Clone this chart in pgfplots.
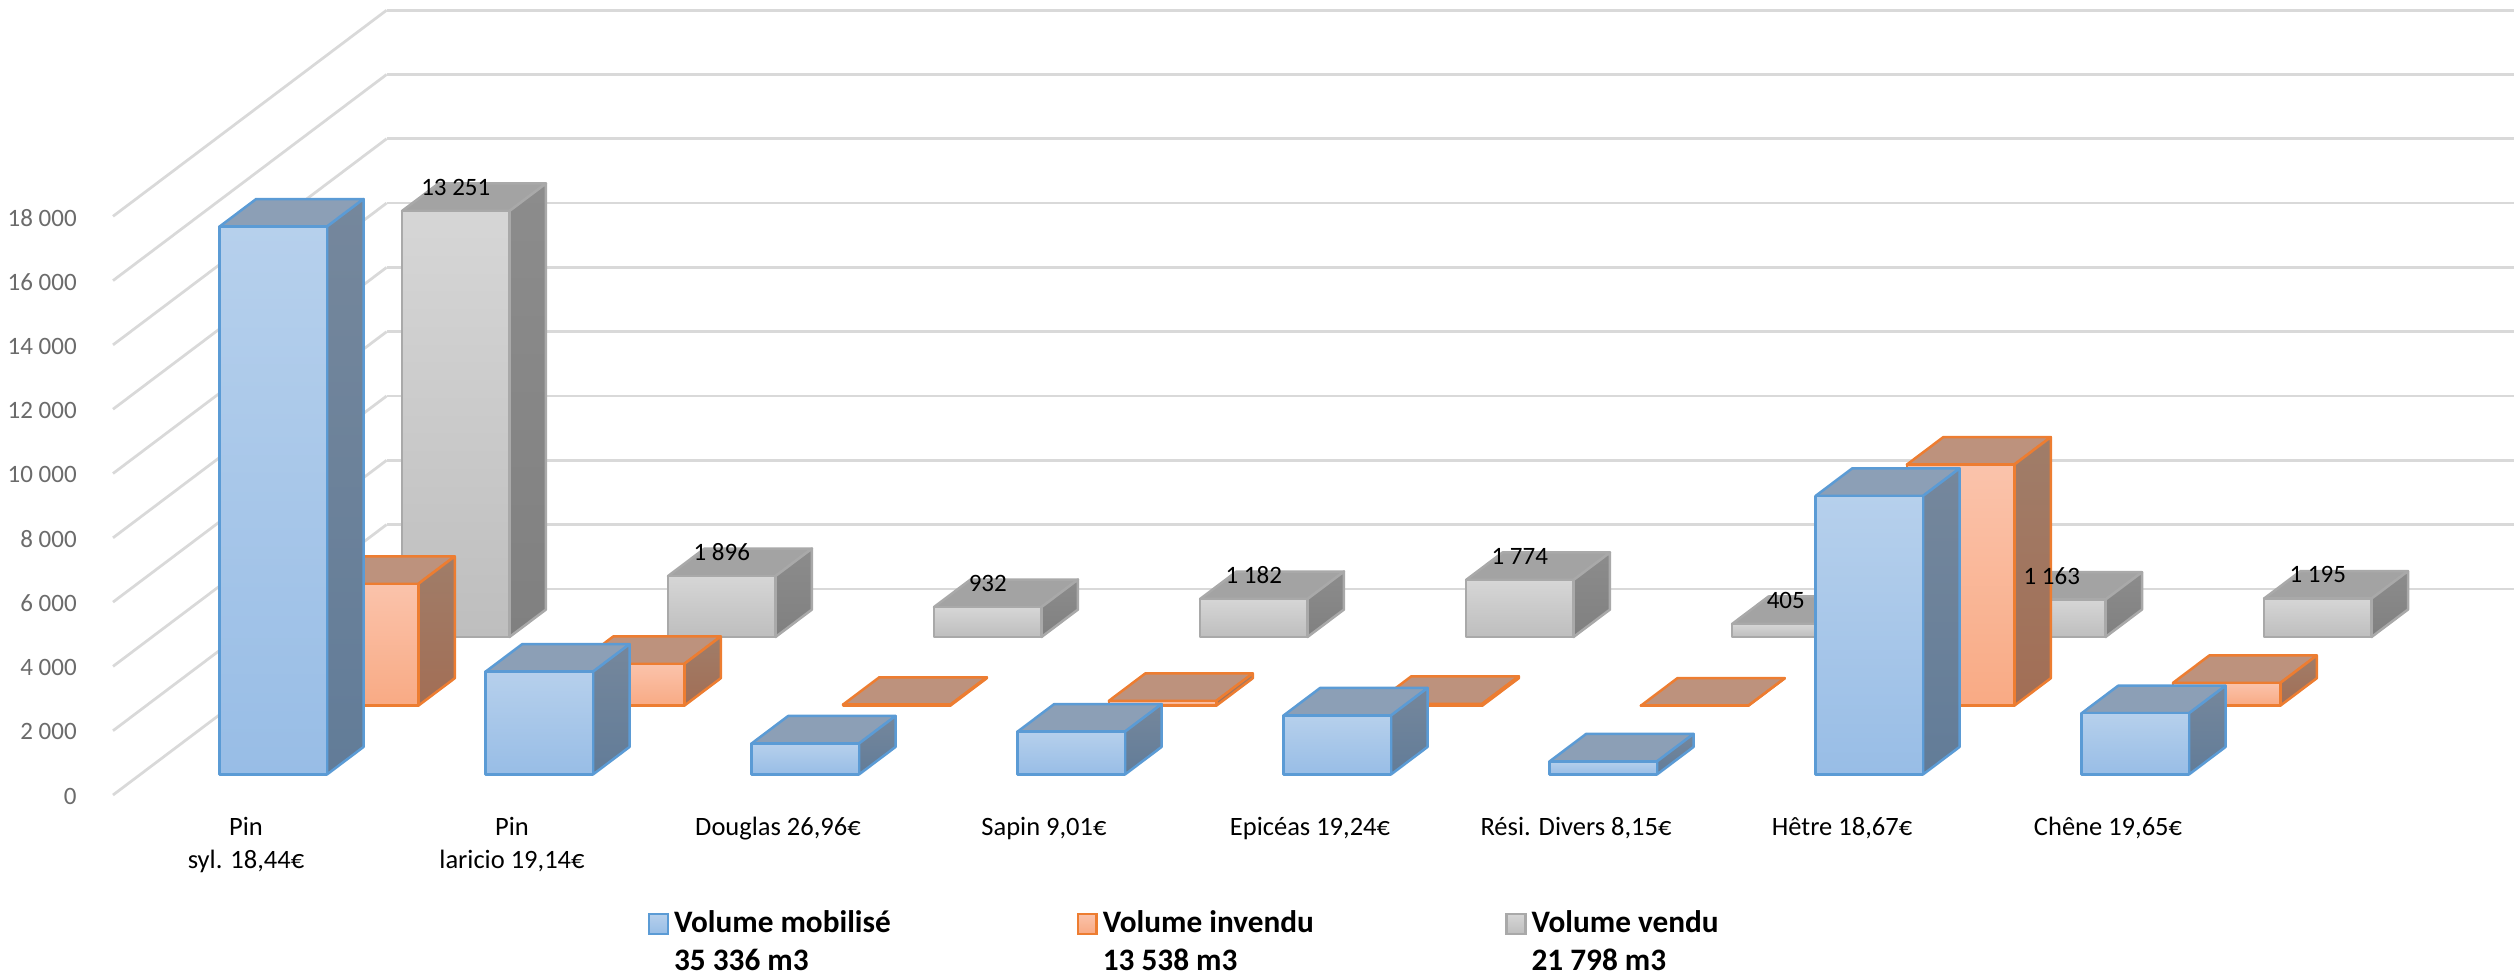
\documentclass[border=0pt]{standalone}
\usepackage{fontspec}
\setmainfont{Carlito}
\usepackage{pgfplots}
\pgfplotsset{compat=1.18}
\definecolor{bF1}{HTML}{B6D0EC}\definecolor{bF2}{HTML}{98BDE6}\definecolor{bE}{HTML}{5B9BD5}
\definecolor{bT}{HTML}{8C9FB6}\definecolor{bS1}{HTML}{75879C}\definecolor{bS2}{HTML}{627C98}
\definecolor{oF1}{HTML}{FAC3AB}\definecolor{oF2}{HTML}{F9AA84}\definecolor{oE}{HTML}{ED7D31}
\definecolor{oT}{HTML}{BD927D}\definecolor{oS1}{HTML}{A07D69}\definecolor{oS2}{HTML}{A26E55}
\definecolor{gF1}{HTML}{D6D6D6}\definecolor{gF2}{HTML}{BEBEBE}\definecolor{gE}{HTML}{A9A9A9}
\definecolor{gT}{HTML}{A3A3A3}\definecolor{gS1}{HTML}{8C8C8C}\definecolor{gS2}{HTML}{808080}
% #1 category index, #2 row (depth), #3 value, #4 colour prefix
\newcommand{\barbox}[4]{%
  \pgfmathsetmacro\xa{#1+0.298}\pgfmathsetmacro\xb{#1+0.702}%
  \pgfmathsetmacro\ya{#2+0.3}\pgfmathsetmacro\yb{#2+0.7}%
  \edef\tmp{\noexpand\addplot3[forget plot,draw=#4E,line width=1pt,line join=round,fill=#4T]
    coordinates {(\xa,\ya,#3)(\xb,\ya,#3)(\xb,\yb,#3)(\xa,\yb,#3)} --cycle;
  \noexpand\addplot3[forget plot,draw=#4E,line width=1pt,line join=round,top color=#4S1,bottom color=#4S2,shading angle=0]
    coordinates {(\xb,\ya,0)(\xb,\yb,0)(\xb,\yb,#3)(\xb,\ya,#3)} --cycle;
  \noexpand\addplot3[forget plot,draw=#4E,line width=1pt,line join=round,top color=#4F1,bottom color=#4F2]
    coordinates {(\xa,\ya,0)(\xb,\ya,0)(\xb,\ya,#3)(\xa,\ya,#3)} --cycle;}%
  \tmp}
\pgfplotsset{
  swatch/.style n args={3}{legend image code/.code={%
    \draw[draw=#1,line width=1pt,top color=#2,bottom color=#3] (0pt,-4.3pt) rectangle (7.5pt,3.7pt);}}
}
\begin{document}
\begin{tikzpicture}
\path[use as bounding box] (-45.2pt,-73.6pt) rectangle +(1005.6pt,391.6pt);
\begin{axis}[
  at={(0pt,0pt)},anchor=origin,
  x={(106.4pt,0pt)},y={(36.48pt,27.48pt)},z={(0pt,0.01286pt)},
  xmin=0,xmax=8,ymin=0,ymax=3,zmin=0,zmax=18000,
  clip=false,
  scaled z ticks=false,
  font=\fontsize{10.5}{13}\selectfont,
  axis line style={draw=none},
  major tick length=0pt,
  xtick={0.5,1.5,2.5,3.5,4.5,5.5,6.5,7.5},
  xticklabels={{Pin\\syl. 18,44€},{Pin\\laricio 19,14€},{Douglas 26,96€},{Sapin 9,01€},{Epicéas 19,24€},{Rési. Divers 8,15€},{Hêtre 18,67€},{Chêne 19,65€}},
  xticklabel style={align=center,anchor=north,yshift=-5.5pt,font=\fontsize{10.6}{13}\selectfont},
  ytick=\empty,
  ztick={0,2000,4000,6000,8000,10000,12000,14000,16000,18000},
  zticklabels={0,2 000,4 000,6 000,8 000,10 000,12 000,14 000,16 000,18 000},
  zticklabel style={anchor=east,xshift=-11pt,yshift=-0.5pt,text=black!58,font=\fontsize{10}{13}\selectfont},
  zmajorgrids,
  grid style={draw=black!15,line width=1.1pt},
  legend columns=3,
  legend cell align=left,
  legend style={draw=none,fill=none,at={(0.2225,-0.14)},anchor=north west,inner sep=0pt,
    font=\fontsize{12.5}{15.4}\selectfont\bfseries,
    /tikz/every even column/.append style={column sep=0pt}},
]
% grey row (volume vendu)
\barbox{0}{2}{13251}{g}\barbox{1}{2}{1896}{g}\barbox{2}{2}{932}{g}\barbox{3}{2}{1182}{g}
\barbox{4}{2}{1774}{g}\barbox{5}{2}{405}{g}\barbox{6}{2}{1163}{g}\barbox{7}{2}{1195}{g}
% orange row (volume invendu)
\barbox{0}{1}{3790}{o}\barbox{1}{1}{1300}{o}\barbox{2}{1}{30}{o}\barbox{3}{1}{150}{o}
\barbox{4}{1}{60}{o}\barbox{5}{1}{0}{o}\barbox{6}{1}{7500}{o}\barbox{7}{1}{708}{o}
% blue row (volume mobilise)
\barbox{0}{0}{17041}{b}\barbox{1}{0}{3196}{b}\barbox{2}{0}{962}{b}\barbox{3}{0}{1332}{b}
\barbox{4}{0}{1834}{b}\barbox{5}{0}{405}{b}\barbox{6}{0}{8663}{b}\barbox{7}{0}{1903}{b}
% data labels
\addplot3[forget plot,draw=none,mark=none,nodes near coords,point meta=explicit symbolic,
  nodes near coords style={anchor=center,yshift=9.5pt,text=black,inner sep=0pt,font=\fontsize{10}{12}\selectfont}]
  coordinates {(0.5,2.3,13251)[13 251] (1.5,2.3,1896)[1 896] (2.5,2.3,932)[932] (3.5,2.3,1182)[1 182]
    (4.5,2.3,1774)[1 774] (5.5,2.3,405)[405] (6.5,2.3,1163)[1 163] (7.5,2.3,1195)[1 195]};
\addlegendimage{swatch={bE}{bF1}{bF2}}
\addlegendentry{\parbox[t]{159pt}{Volume mobilisé\\35 336 m3}}
\addlegendimage{swatch={oE}{oF1}{oF2}}
\addlegendentry{\parbox[t]{159pt}{Volume invendu\\13 538 m3}}
\addlegendimage{swatch={gE}{gF1}{gF2}}
\addlegendentry{\parbox[t]{100pt}{Volume vendu\\21 798 m3}}
\end{axis}
\end{tikzpicture}
\end{document}
